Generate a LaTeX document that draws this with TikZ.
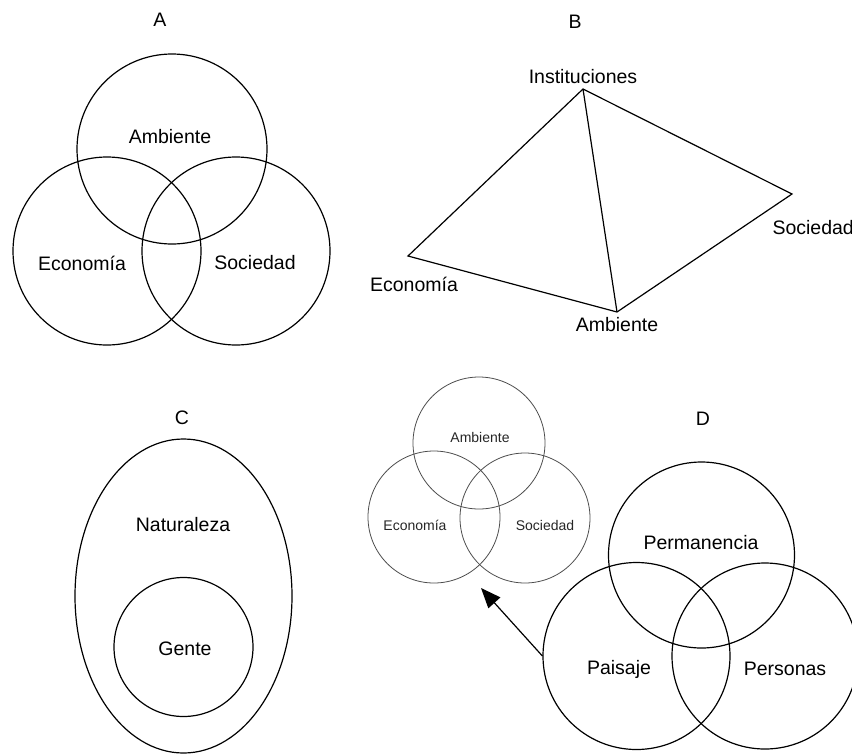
\documentclass[tikz,border=0pt]{standalone}
\usepackage{fontspec}
\setmainfont{Liberation Sans}
\usetikzlibrary{shapes.geometric,arrows.meta,positioning}
\tikzstyle{ring}=[circle,draw,line width=1.2pt,inner sep=0pt]
\tikzstyle{oval}=[ellipse,draw,line width=1.2pt,inner sep=0pt]
\tikzstyle{thinring}=[circle,draw=black!70,line width=0.8pt,inner sep=0pt]
\tikzstyle{edge}=[line width=1.2pt,line join=miter]
\tikzstyle{lbl}=[font=\fontsize{19.5}{22}\selectfont]
\tikzstyle{smalllbl}=[font=\fontsize{14}{16}\selectfont,text=black!85]
\tikzstyle{arrow}=[line width=1.2pt,-{Triangle[length=20pt,width=16pt]}]

\begin{document}
\begin{tikzpicture}[x=1pt,y=-1pt]
\useasboundingbox (0,0) rectangle (852,753);
% A
\node (A) [lbl] at (160,20) {A};
\node (ambA) [ring,minimum size=190pt] at (172,149) {};
\node (ecoA) [ring,minimum size=188pt] at (107,251) {};
\node (socA) [ring,minimum size=188pt] at (236,251) {};
\node (ambAt) [lbl] at (170,137) {Ambiente};
\node (ecoAt) [lbl] at (82,263) {Economía};
\node (socAt) [lbl] at (255,263) {Sociedad};
% B
\node (B) [lbl] at (575,22) {B};
\coordinate (inst) at (583,89);
\coordinate (ecoB) at (408,256);
\coordinate (ambB) at (617,312);
\coordinate (socB) at (792,194);
\draw[edge] (inst)--(ecoB)--(ambB)--(socB)--cycle;
\draw[edge] (inst)--(ambB);
\node (instt) [lbl,above=2pt of inst] {Instituciones};
\node (ecoBt) [lbl] at (414,284) {Economía};
\node (ambBt) [lbl,below=2pt of ambB] {Ambiente};
\node (socBt) [lbl,anchor=west] at (769,228) {Sociedad};
% C
\node (C) [lbl] at (182,418) {C};
\node (nat) [oval,minimum width=217pt,minimum height=314pt] at (183.5,596) {};
\node (gen) [ring,minimum size=139pt] at (183.5,647) {};
\node (natt) [lbl] at (183,525) {Naturaleza};
\node (gent) [lbl] at (185,649) {Gente};
% small venn
\node (ambS) [thinring,minimum size=132pt] at (479,443) {};
\node (ecoS) [thinring,minimum size=132pt] at (434,517) {};
\node (socS) [thinring,minimum size=130pt] at (525,518) {};
\node (ambSt) [smalllbl] at (480,437) {Ambiente};
\node (ecoSt) [smalllbl] at (415,525) {Economía};
\node (socSt) [smalllbl] at (545,525) {Sociedad};
% D
\node (D) [lbl] at (703,419) {D};
\node (perD) [ring,minimum size=186pt] at (701.5,555) {};
\node (paiD) [ring,minimum size=187pt] at (636.5,656) {};
\node (psnD) [ring,minimum size=186pt] at (765,656) {};
\node (perDt) [lbl] at (701,543) {Permanencia};
\node (paiDt) [lbl] at (619,669) {Paisaje};
\node (psnDt) [lbl] at (785,669) {Personas};
\coordinate (tip) at (481,588);
\draw[arrow] (paiD.west)--(tip);
\end{tikzpicture}
\end{document}
